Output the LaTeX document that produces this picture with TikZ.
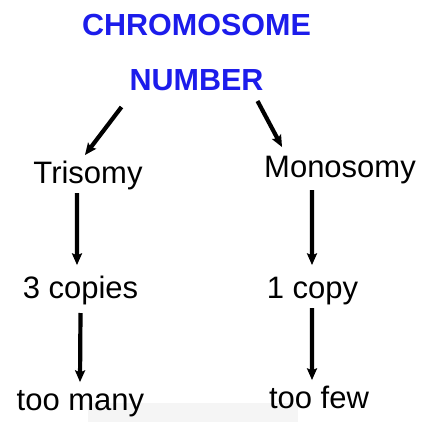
\documentclass[tikz,border=0pt]{standalone}
\usepackage{fontspec}
\setmainfont{Liberation Sans}
\usetikzlibrary{calc}
\definecolor{titleblue}{RGB}{28,28,235}
\tikzset{
  headtext/.style={font=\fontsize{30.5bp}{32bp}\selectfont\bfseries, text=titleblue, anchor=base, inner sep=0pt},
  termtext/.style={font=\fontsize{31bp}{33bp}\selectfont, text=black, anchor=base, inner sep=0pt},
  % arrow built as one filled outline: bold shaft with a narrow triangular head
  solidarrow/.style={fill=black, to path={
    let \p1=($(\tikztotarget)!12bp!(\tikztostart)$),
        \p2=($(\tikztotarget)!10.5bp!(\tikztostart)$) in
    ($(\tikztostart)!2.1bp!90:(\tikztotarget)$)
    -- ($(\p2)!2.1bp!90:(\tikztotarget)$)
    -- ($(\p1)!5.3bp!90:(\tikztotarget)$)
    -- (\tikztotarget)
    -- ($(\p1)!5.3bp!-90:(\tikztotarget)$)
    -- ($(\p2)!2.1bp!-90:(\tikztotarget)$)
    -- ($(\tikztostart)!2.1bp!-90:(\tikztotarget)$)
    -- cycle}}
}
\begin{document}
\begin{tikzpicture}
  \useasboundingbox (0,0) rectangle (423bp,-422bp);
  \fill[white] (0,0) rectangle (423bp,-422bp);
  % faint band along the lower edge
  \fill[black!4] (88bp,-403bp) rectangle (298bp,-422bp);

  % heading
  \node[headtext] (t1) at (196.5bp,-35bp) {CHROMOSOME};
  \node[headtext] (t2) at (196.5bp,-90bp) {NUMBER};

  % left branch
  \node[termtext] (tri) at (88bp,-183bp) {Trisomy};
  \node[termtext] (three) at (80.5bp,-298bp) {3 copies};
  \node[termtext] (many) at (80.5bp,-410bp) {too many};

  % right branch
  \node[termtext] (mono) at (340bp,-177bp) {Monosomy};
  \node[termtext] (one) at (312.5bp,-298bp) {1 copy};
  \node[termtext] (few) at (319bp,-408bp) {too few};

  % arrow end points, placed against the labels
  \coordinate (a1s) at ([shift={(-75bp,-17bp)}]t2.base);
  \coordinate (a1e) at ([shift={(-3bp,28bp)}]tri.base);
  \coordinate (a2s) at ([shift={(61bp,-11bp)}]t2.base);
  \coordinate (a2e) at ([shift={(-58bp,30bp)}]mono.base);
  \coordinate (a3s) at ([shift={(-11bp,-10bp)}]tri.base);
  \coordinate (a3e) at ([shift={(-3.5bp,33bp)}]three.base);
  \coordinate (a4s) at ([shift={(0bp,-15bp)}]three.base);
  \coordinate (a4e) at ([shift={(-0.5bp,28bp)}]many.base);
  \coordinate (a5s) at ([shift={(-28bp,-13bp)}]mono.base);
  \coordinate (a5e) at ([shift={(-0.5bp,33bp)}]one.base);
  \coordinate (a6s) at ([shift={(-0.5bp,-10bp)}]one.base);
  \coordinate (a6e) at ([shift={(-7bp,28bp)}]few.base);

  % connectors
  \path[solidarrow] (a1s) to (a1e);
  \path[solidarrow] (a2s) to (a2e);
  \path[solidarrow] (a3s) to (a3e);
  \path[solidarrow] (a4s) to (a4e);
  \path[solidarrow] (a5s) to (a5e);
  \path[solidarrow] (a6s) to (a6e);
\end{tikzpicture}
\end{document}
